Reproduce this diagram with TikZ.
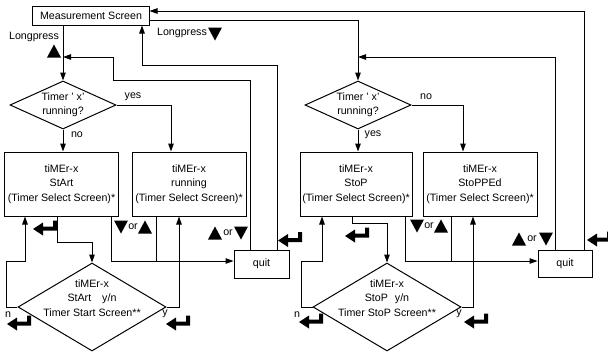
\documentclass[tikz,border=0pt]{standalone}
\usepackage{fontspec}
\setmainfont{Liberation Sans}
\usetikzlibrary{shapes.geometric,arrows.meta}

\tikzset{
  screen/.style={draw, line width=1bp, align=center, inner sep=1bp, minimum height=64bp},
  quitbox/.style={draw, line width=1bp, minimum width=55bp, minimum height=28bp},
  ask/.style={draw, diamond, line width=1bp, inner sep=0pt, aspect=2, align=center},
  arr/.style={-{Triangle[length=8bp,width=5.5bp]}, line width=1bp},
  link/.style={line width=1bp},
  lbl/.style={inner sep=0pt},
  tridown/.pic={\fill (-7,-6.5) -- (7,-6.5) -- (0,6.5) -- cycle;},
  triup/.pic={\fill (-7,6.5) -- (7,6.5) -- (0,-6.5) -- cycle;},
  enterkey/.pic={\fill (0,0) -- (10,-6.5) -- (10,-2.5) -- (20,-2.5) -- (20,-8.5)
    -- (24,-8.5) -- (24,1.5) -- (10,1.5) -- (10,6.5) -- cycle;}
}

\begin{document}
\begin{tikzpicture}[x=1bp, y=-1bp, font=\fontsize{10.7}{14.5}\selectfont]
   \useasboundingbox (0,0) rectangle (608,352);

   % screens and questions
   \node[draw, line width=1bp, minimum width=116bp, minimum height=19bp, inner sep=1bp] (meas) at (91,15.5) {Measurement Screen};
   \node[ask, minimum width=106bp, minimum height=48bp] (askL) at (63,105) {Timer ' x'\\running?};
   \node[ask, minimum width=106bp, minimum height=48bp] (askR) at (358,105) {Timer ' x'\\running?};
   \node[screen, minimum width=113bp] (startscr) at (61.5,184) {tiMEr-x\\StArt\\(Timer Select Screen)*};
   \node[screen, minimum width=114bp] (runscr) at (189,184) {tiMEr-x\\running\\(Timer Select Screen)*};
   \node[screen, minimum width=112bp] (stopscr) at (356,184) {tiMEr-x\\StoP\\(Timer Select Screen)*};
   \node[screen, minimum width=114bp] (stoppedscr) at (480,184) {tiMEr-x\\StoPPEd\\(Timer Select Screen)*};
   \node[ask, minimum width=148bp, minimum height=88bp] (startyn) at (92,307) {};
   \node[lbl, align=center] (startyntxt) at (92,298) {tiMEr-x\\StArt\hspace{11bp}y/n\\Timer Start Screen**};
   \node[ask, minimum width=148bp, minimum height=88bp] (stopyn) at (387,307) {};
   \node[lbl, align=center] (stopyntxt) at (387,298) {tiMEr-x\\StoP\hspace{7bp}y/n\\Timer StoP Screen**};
   \node[quitbox] (quitL) at (261.5,264) {quit};
   \node[quitbox, minimum width=54bp, minimum height=27bp] (quitR) at (565,263.5) {quit};

   \coordinate (joinL) at (63,57);
   \coordinate (joinR) at (358,57);

   % top connectors
   \draw[arr] (meas.south -| askL.north) -- (askL.north);
   \draw[arr] ([xshift=17bp]quitL.north west) |- (113,80) |- (joinL);
   \draw[arr] ([xshift=-12bp]quitL.north east) -- ++(0,-184) -| ([xshift=51bp]meas.south);
   \draw[arr] ([xshift=-8bp]quitR.north east) |- ([yshift=4.5bp]meas.east);
   \draw[arr] ([yshift=-4.5bp]meas.east) -| (askR.north);
   \draw[arr] ([xshift=18bp]quitR.north west) |- (joinR);

   % questions to screens
   \draw[arr] (askL.east) -| ([xshift=-18bp]runscr.north);
   \draw[arr] (askL.south) -- (startscr.north -| askL.south);
   \draw[arr] (askR.east) -| ([xshift=-17bp]stoppedscr.north);
   \draw[arr] (askR.south) -- (stopscr.north -| askR.south);

   % left bottom
   \draw[arr] (startyn.west) -| (6,261) -| ([xshift=-36.5bp]startscr.south);
   \draw[arr] ([xshift=-4.5bp]startscr.south) -- ++(0,26) -| (startyn.north);
   \draw[arr] ([xshift=49.5bp]startscr.south) |- ([yshift=3bp]quitL.west);
   \draw[link] ([xshift=-33bp]runscr.south) -- ++(0,45);
   \draw[arr] (startyn.east) -| ([xshift=-10bp]runscr.south);

   % right bottom
   \draw[arr] (stopyn.west) -| (301,261) -| ([xshift=-34bp]stopscr.south);
   \draw[arr] ([xshift=-4bp]stopscr.south) -- ++(0,7) -| (stopyn.north);
   \draw[arr] ([xshift=49bp]stopscr.south) |- ([yshift=2.5bp]quitR.west);
   \draw[link] ([xshift=-29bp]stoppedscr.south) -- ++(0,45);
   \draw[arr] (stopyn.east) -| ([xshift=-7bp]stoppedscr.south);

   % labels
   \node[lbl] (lpL) at (34,37) {Longpress};
   \pic at (54,51) {triup};
   \node[lbl] (lpR) at (182,33) {Longpress};
   \pic at (215,34) {tridown};
   \node[lbl] (yesL) at (133,97) {yes};
   \node[lbl] (noL) at (77,135) {no};
   \node[lbl] (noR) at (426,97) {no};
   \node[lbl] (yesR) at (373,135) {yes};
   \node[lbl] (orA) at (133,227) {or};
   \pic at (121,227) {tridown};
   \pic at (145,227) {triup};
   \node[lbl] (orB) at (228,233) {or};
   \pic at (215,233) {triup};
   \pic at (241,233) {tridown};
   \node[lbl] (orC) at (429,226) {or};
   \pic at (417,226) {tridown};
   \pic at (441,226) {triup};
   \node[lbl] (orD) at (532,239) {or};
   \pic at (519,239) {triup};
   \pic at (546,239) {tridown};
   \node[lbl] (nL) at (8,315) {n};
   \node[lbl] (yL) at (165,314) {y};
   \node[lbl] (nR) at (297,315) {n};
   \node[lbl] (yR) at (459,314) {y};

   % enter keys
   \pic at (33,229) {enterkey};
   \pic at (278,240.5) {enterkey};
   \pic at (7,324) {enterkey};
   \pic at (166,324) {enterkey};
   \pic at (345,236) {enterkey};
   \pic at (587,240) {enterkey};
   \pic at (299,322) {enterkey};
   \pic at (464,322) {enterkey};
\end{tikzpicture}
\end{document}
